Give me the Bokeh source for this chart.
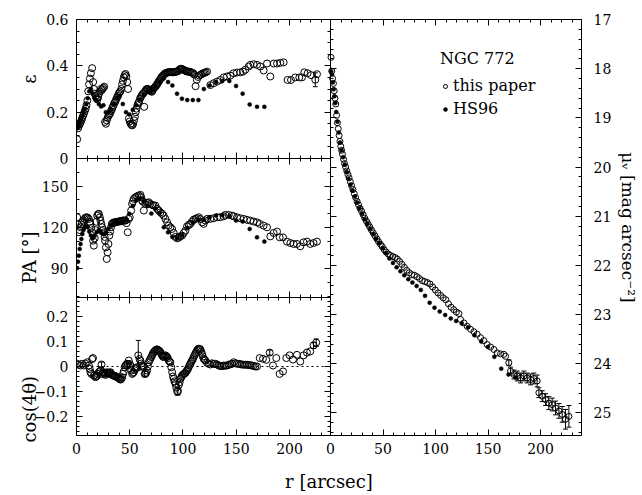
import math
from bokeh.plotting import figure
from bokeh.models import (Range1d, LinearAxis, SingleIntervalTicker, FixedTicker,
                          CustomJSTickFormatter, BasicTickFormatter, ColumnDataSource,
                          Whisker, Legend, LegendItem, Title)
from bokeh.embed import file_html
from bokeh.resources import INLINE

FONT = "DejaVu Serif"

# ---------------- data: this paper ----------------
eps_r = [0.6, 1.4, 2.2, 3.0, 3.8, 4.6, 5.4, 6.2, 7.0, 7.8,
         8.6, 9.4, 10.2, 11.0, 11.8, 12.6, 13.5, 14.7, 15.6, 16.4,
         17.2, 18.0, 18.8, 19.6, 20.4, 21.2, 22.0, 22.8, 23.6, 24.4,
         25.2, 26.0, 26.8, 27.6, 28.4, 29.2, 30.0, 30.8, 31.6, 32.4,
         33.2, 34.0, 34.8, 35.6, 36.4, 37.2, 38.0, 38.8, 39.6, 40.4,
         41.2, 42.0, 42.8, 43.6, 44.4, 45.2, 46.0, 46.8, 47.6, 48.4,
         49.2, 50.0, 50.8, 51.6, 52.4, 53.2, 54.0, 54.8, 55.6, 56.4,
         57.2, 58.0, 58.8, 59.6, 60.4, 61.2, 62.0, 62.8, 63.6, 64.4,
         65.2, 66.0, 66.8, 67.6, 68.4, 69.2, 70.0, 70.8, 71.6, 72.4,
         73.2, 74.0, 74.8, 75.6, 76.4, 77.2, 78.0, 78.8, 79.6, 80.4,
         81.2, 82.0, 82.8, 83.6, 84.6, 85.6, 86.6, 87.6, 88.6, 89.6,
         90.6, 91.6, 92.6, 93.6, 94.6, 95.6, 96.6, 97.6, 98.6, 99.6,
         100.6, 101.6, 102.6, 103.6, 104.6, 105.6, 106.6, 107.6, 108.6, 109.6,
         110.6, 111.8, 113.0, 114.2, 115.4, 116.6, 117.8, 119.0, 120.2, 121.4,
         122.6, 125.7, 128.8, 132.0, 135.0, 138.2, 141.3, 144.4, 147.5, 150.6,
         153.8, 156.3, 158.5, 161.6, 163.2, 166.3, 169.5, 172.6, 175.7, 178.9,
         182.0, 185.2, 188.3, 191.4, 194.5, 198.2, 201.4, 205.4, 209.2, 211.7,
         213.9, 217.0, 220.2, 224.2, 225.8]
eps_v = [0.083, 0.13, 0.14, 0.148, 0.155, 0.165, 0.175, 0.185, 0.195, 0.205,
         0.215, 0.23, 0.25, 0.29, 0.32, 0.345, 0.368, 0.39, 0.33, 0.30,
         0.28, 0.27, 0.26, 0.255, 0.265, 0.28, 0.29, 0.30, 0.295, 0.30,
         0.305, 0.31, 0.158, 0.15, 0.165, 0.175, 0.185, 0.19, 0.195, 0.205,
         0.212, 0.222, 0.23, 0.24, 0.245, 0.255, 0.262, 0.27, 0.28, 0.285,
         0.29, 0.30, 0.32, 0.335, 0.35, 0.36, 0.365, 0.355, 0.33, 0.30,
         0.173, 0.16, 0.15, 0.145, 0.143, 0.15, 0.165, 0.18, 0.20, 0.215,
         0.23, 0.24, 0.245, 0.258, 0.265, 0.272, 0.278, 0.281, 0.223, 0.29,
         0.296, 0.30, 0.30, 0.298, 0.296, 0.294, 0.29, 0.288, 0.295, 0.303,
         0.306, 0.31, 0.314, 0.32, 0.326, 0.332, 0.338, 0.343, 0.35, 0.354,
         0.358, 0.362, 0.365, 0.368, 0.37, 0.372, 0.372, 0.373, 0.373, 0.372,
         0.372, 0.373, 0.374, 0.375, 0.376, 0.378, 0.383, 0.387, 0.387, 0.385,
         0.382, 0.38, 0.378, 0.376, 0.375, 0.375, 0.374, 0.372, 0.37, 0.368,
         0.362, 0.312, 0.34, 0.352, 0.358, 0.362, 0.365, 0.368, 0.37, 0.372,
         0.375, 0.317, 0.325, 0.332, 0.339, 0.35, 0.354, 0.358, 0.368, 0.371,
         0.372, 0.375, 0.383, 0.397, 0.404, 0.407, 0.404, 0.397, 0.38, 0.41,
         0.354, 0.41, 0.41, 0.413, 0.415, 0.339, 0.339, 0.35, 0.35, 0.35,
         0.372, 0.368, 0.36, 0.34, 0.364]
eps_err_r = [224.2]
eps_err_v = [0.34]
eps_err_e = [0.03]

pa_r = [0.6, 1.4, 2.2, 3.0, 3.8, 4.6, 5.3, 6.4, 7.5, 8.5,
        9.4, 10.5, 11.6, 12.4, 13.1, 13.9, 14.7, 15.6, 16.3, 17.1,
        17.8, 18.6, 19.4, 20.2, 21.0, 21.9, 22.5, 23.3, 24.1, 24.9,
        25.6, 26.4, 26.8, 27.6, 28.4, 29.2, 30.0, 30.8, 31.6, 32.4,
        33.2, 34.0, 35.0, 36.0, 37.0, 38.0, 39.0, 40.0, 41.0, 42.0,
        43.0, 44.0, 45.0, 46.0, 47.0, 48.1, 49.0, 50.0, 51.3, 52.2,
        53.0, 53.8, 55.3, 56.9, 58.5, 60.0, 60.7, 61.6, 62.4, 63.2,
        64.7, 66.3, 67.8, 69.4, 71.0, 72.5, 74.1, 75.7, 77.2, 78.8,
        80.4, 81.9, 83.5, 85.1, 86.6, 88.2, 89.8, 91.3, 92.9, 94.5,
        96.0, 97.6, 99.1, 100.7, 102.3, 103.8, 105.4, 106.9, 108.5, 110.0,
        111.7, 113.2, 114.8, 116.3, 117.9, 119.4, 121.0, 122.6, 125.7, 128.8,
        132.0, 135.0, 138.2, 139.8, 142.9, 146.0, 147.6, 150.7, 153.8, 157.0,
        160.1, 163.2, 166.3, 169.5, 172.0, 175.7, 178.9, 182.0, 185.1, 188.3,
        190.8, 193.9, 197.6, 200.8, 203.9, 207.0, 210.1, 213.2, 216.4, 219.5,
        222.6, 225.8]
pa_v = [127.3, 122, 116.4, 118, 120, 122, 123.6, 125, 126.1, 127,
        127.3, 127, 126.1, 124, 122.5, 119.5, 116.4, 110.3, 106.7, 112,
        118, 124, 128.5, 129.5, 129.8, 127.3, 124.9, 122.5, 120, 118,
        116.4, 113, 110.3, 105.4, 97, 101.8, 107.9, 114, 117, 120,
        122.5, 123, 123.6, 123.6, 123.6, 124, 124, 124.4, 124.4, 124.4,
        124.9, 124.9, 125, 124.9, 123, 116.4, 126, 127.3, 132.2, 137,
        139, 140.7, 141.9, 142.6, 143.1, 143.6, 141.9, 139.5, 138.5, 132.2,
        137, 137.8, 138.2, 137, 136.3, 135.8, 135.8, 133.4, 132.2, 130.9,
        129.8, 128.5, 126.1, 123.6, 121.2, 120, 118.8, 115.9, 113, 112,
        112.5, 113.5, 114, 115.9, 117.6, 120.7, 121.7, 122.5, 124.2, 125.6,
        126.1, 126.6, 127.3, 126, 123.6, 122.5, 124.9, 126.1, 126.1, 126.6,
        127.3, 127.3, 128, 129, 129, 128.5, 128, 127.3, 126.6, 126.1,
        125.4, 124.9, 124.2, 123.6, 122.5, 121.2, 120, 113.4, 115.9, 116.9,
        112.7, 112.7, 109.6, 108.6, 107.9, 107.9, 106.2, 109.1, 109.6, 107.9,
        108.6, 109.6]

cos_r = [0.6, 2.2, 3.8, 5.3, 6.9, 8.4, 10.0, 11.6, 12.4, 13.1,
         13.9, 14.7, 15.5, 16.3, 17.1, 17.8, 18.6, 19.4, 20.2, 20.9,
         21.7, 22.5, 23.5, 24.1, 24.9, 25.6, 26.4, 27.2, 28.0, 28.8,
         29.5, 30.3, 31.1, 31.9, 32.7, 33.5, 34.2, 35.0, 35.8, 36.6,
         37.4, 38.2, 39.0, 39.7, 40.5, 41.3, 42.1, 42.9, 43.7, 44.4,
         45.2, 46.0, 46.8, 47.6, 48.4, 49.1, 50.0, 50.7, 51.5, 52.3,
         53.0, 53.8, 54.6, 55.3, 56.1, 56.9, 58.0, 59.2, 60.0, 60.8,
         61.6, 62.4, 63.2, 64.0, 64.7, 65.5, 66.3, 67.0, 67.8, 68.6,
         69.4, 70.2, 71.0, 71.7, 72.5, 73.3, 74.1, 74.9, 75.7, 76.4,
         77.2, 78.0, 78.8, 79.6, 80.4, 81.1, 81.9, 82.7, 83.5, 84.3,
         85.1, 85.8, 86.6, 87.4, 88.2, 89.0, 89.8, 90.6, 91.3, 92.1,
         92.9, 93.7, 94.5, 95.3, 96.0, 96.8, 97.6, 98.4, 99.1, 99.9,
         100.7, 101.5, 102.3, 103.0, 103.8, 104.6, 105.4, 106.1, 106.9, 107.7,
         108.5, 109.3, 110.0, 110.8, 111.6, 112.4, 113.2, 114.0, 114.7, 115.5,
         116.3, 117.1, 117.9, 118.7, 119.4, 120.2, 121.0, 122.6, 124.1, 125.7,
         127.3, 128.8, 130.4, 132.0, 133.5, 135.1, 136.7, 138.2, 139.8, 141.3,
         142.9, 144.5, 146.0, 147.6, 149.2, 150.7, 152.3, 153.9, 155.4, 157.0,
         158.5, 160.1, 161.6, 163.2, 164.8, 166.3, 167.9, 169.5, 172.0, 175.1,
         178.2, 181.4, 184.5, 187.6, 190.7, 193.9, 197.0, 200.1, 203.3, 207.0,
         210.1, 213.2, 216.4, 219.5, 222.6, 225.1]
cos_v = [0.011, 0.007, 0.004, 0.011, 0.004, 0.011, 0.017, 0.004, -0.01, -0.023,
         -0.03, 0.03, 0.034, -0.037, -0.035, -0.043, -0.04, -0.037, -0.03, -0.023,
         -0.02, -0.016, 0.008, -0.03, -0.025, -0.023, -0.03, -0.034, -0.028, -0.023,
         -0.027, -0.03, -0.025, -0.023, -0.03, -0.034, -0.036, -0.037, -0.038, -0.039,
         -0.041, -0.043, -0.045, -0.047, -0.05, -0.053, -0.05, -0.043, -0.03, -0.02,
         -0.003, 0.004, 0.008, 0.011, 0.01, 0.024, 0.01, 0.004, -0.015, -0.03,
         -0.026, -0.023, -0.015, -0.009, -0.005, -0.003, 0.045, 0.03, 0.024, 0.012,
         0.004, 0.0, -0.003, -0.03, -0.03, -0.025, -0.016, 0.0, 0.017, 0.025,
         0.031, 0.038, 0.045, 0.052, 0.058, 0.062, 0.065, 0.068, 0.069, 0.067,
         0.065, 0.062, 0.058, 0.05, 0.045, 0.04, 0.038, 0.042, 0.045, 0.042,
         0.038, 0.033, 0.024, 0.02, 0.017, -0.003, -0.023, -0.04, -0.05, -0.06,
         -0.07, -0.085, -0.1, -0.1, -0.075, -0.064, -0.05, -0.043, -0.037, -0.033,
         -0.03, -0.028, -0.026, -0.02, -0.016, -0.01, -0.003, 0.005, 0.011, 0.018,
         0.024, 0.03, 0.038, 0.045, 0.052, 0.058, 0.065, 0.07, 0.072, 0.07,
         0.069, 0.06, 0.05, 0.04, 0.031, 0.028, 0.024, 0.015, 0.011, 0.008,
         0.013, 0.01, 0.011, 0.008, 0.004, 0.002, 0.001, 0.004, 0.003, 0.004,
         0.007, 0.009, 0.011, 0.017, 0.013, 0.011, 0.011, 0.009, 0.008, 0.007,
         0.007, 0.007, 0.006, 0.005, 0.004, 0.002, 0.0, 0.0, 0.034, 0.031,
         0.027, 0.056, 0.004, 0.034, -0.03, -0.02, 0.034, 0.045, 0.028, 0.047,
         0.02, 0.045, 0.056, 0.061, 0.085, 0.096]
cos_err_r = [23.5, 58.0, 64.0, 83.5, 94.5, 95.3, 96.0, 181.4, 222.6, 225.1]
cos_err_v = [0.008, 0.045, -0.03, 0.045, -0.1, -0.1, -0.075, 0.056, 0.085, 0.096]
cos_err_e = [0.01, 0.06, 0.01, 0.008, 0.015, 0.015, 0.015, 0.01, 0.012, 0.015]

mu_r = [0.5, 1.2, 2.0, 2.8, 3.5, 4.2, 5.0, 5.8, 6.6, 7.4,
        8.2, 9.0, 9.8, 10.6, 11.4, 12.4, 13.4, 14.4, 15.5, 16.6,
        17.7, 18.9, 20.1, 21.3, 22.6, 23.9, 25.3, 26.7, 28.1, 29.6,
        31.1, 32.6, 34.2, 35.8, 37.4, 39.0, 40.7, 42.4, 44.1, 45.8,
        47.5, 49.3, 51.1, 53.0, 55.0, 57.1, 59.2, 61.4, 63.6, 65.8,
        68.0, 70.3, 72.6, 75.0, 77.4, 79.8, 82.3, 84.8, 87.3, 89.8,
        92.3, 94.8, 97.3, 99.8, 102.3, 104.8, 107.3, 109.8, 112.3, 114.8,
        117.3, 119.8, 122.3, 123.8, 127.0, 130.2, 133.3, 136.5, 139.7, 142.9,
        146.0, 149.2, 152.4, 155.6, 158.7, 161.9, 165.1, 166.7, 169.8, 171.4,
        174.6, 177.8, 181.0, 184.1, 187.3, 190.5, 193.6, 196.8, 198.4, 201.6,
        204.8, 207.9, 211.1, 214.3, 217.5, 220.6, 223.8, 227.0]
mu_v = [17.77, 18.05, 18.2, 18.3, 18.45, 18.6, 18.72, 18.95, 19.1, 19.22,
        19.36, 19.48, 19.58, 19.66, 19.74, 19.84, 19.93, 20.0, 20.08, 20.15,
        20.22, 20.3, 20.38, 20.46, 20.54, 20.62, 20.7, 20.77, 20.84, 20.9,
        20.97, 21.04, 21.1, 21.16, 21.22, 21.28, 21.34, 21.4, 21.46, 21.52,
        21.57, 21.62, 21.68, 21.73, 21.77, 21.8, 21.82, 21.84, 21.87, 21.92,
        21.98, 22.04, 22.1, 22.15, 22.19, 22.2, 22.23, 22.27, 22.31, 22.33,
        22.35, 22.38, 22.44, 22.5, 22.56, 22.61, 22.66, 22.7, 22.78, 22.85,
        22.9, 22.95, 22.98, 23.1, 23.17, 23.24, 23.3, 23.35, 23.4, 23.47,
        23.53, 23.61, 23.66, 23.71, 23.78, 23.8, 23.81, 23.85, 23.98, 24.15,
        24.22, 24.25, 24.29, 24.25, 24.29, 24.32, 24.3, 24.35, 24.59, 24.66,
        24.73, 24.8, 24.83, 24.9, 24.96, 25.03, 25.13, 25.07]
mu_err_r = [169.8, 171.4, 174.6, 177.8, 181.0, 184.1, 187.3, 190.5, 193.6, 196.8,
            198.4, 201.6, 204.8, 207.9, 211.1, 214.3, 217.5, 220.6, 223.8, 227.0]
mu_err_v = [23.98, 24.15, 24.22, 24.25, 24.29, 24.25, 24.29, 24.32, 24.3, 24.35,
            24.59, 24.66, 24.73, 24.8, 24.83, 24.9, 24.96, 25.03, 25.13, 25.07]
mu_err_e = [0.06, 0.08, 0.09, 0.1, 0.1, 0.1, 0.1, 0.11, 0.11, 0.12,
            0.1, 0.11, 0.12, 0.13, 0.13, 0.14, 0.15, 0.16, 0.2, 0.22]

# ---------------- data: HS96 ----------------
hs_r = [0.6, 1.4, 2.2, 3.0, 3.8, 4.6, 5.5, 6.6, 7.8, 9.1,
        10.5, 12.0, 13.6, 15.3, 17.1, 19.0, 21.0, 23.1, 25.3, 27.6,
        30.0, 32.5, 35.1, 37.8, 40.6, 43.5, 46.5, 49.6, 52.8, 56.1,
        59.5, 63.0, 66.6, 70.3, 74.1, 78.0, 82.0, 86.0, 90.0, 94.4,
        99.0, 104.0, 109.2, 114.5, 119.6, 125.0, 131.0, 137.0, 143.5, 149.8,
        156.0, 162.6, 169.5, 176.4]
hs_eps = [0.13, 0.135, 0.145, 0.155, 0.165, 0.175, 0.185, 0.20, 0.215, 0.235,
          0.26, 0.29, 0.30, 0.28, 0.26, 0.25, 0.235, 0.225, 0.23, 0.20,
          0.20, 0.21, 0.235, 0.26, 0.27, 0.235, 0.20, 0.19, 0.21, 0.23,
          0.255, 0.275, 0.29, 0.295, 0.31, 0.33, 0.345, 0.33, 0.315, 0.28,
          0.258, 0.252, 0.252, 0.252, 0.30, 0.315, 0.33, 0.335, 0.335, 0.313,
          0.28, 0.233, 0.223, 0.223]
hs_pa = [90.4, 95, 99.4, 104.3, 107.9, 111.5, 115.2, 118, 120, 121,
         120, 117, 114, 112, 114, 116.5, 118, 116, 115, 116.5,
         119, 121.5, 123, 123.6, 123.6, 124, 125.5, 129.8, 135.5, 139.5,
         141, 139, 135.5, 130, 133.5, 130.5, 120, 116.4, 113, 112,
         114, 119.5, 123.5, 125.5, 125.5, 127.3, 128.5, 129, 128, 124.9,
         124.2, 118.8, 112.7, 109.6]
hs_mu = [18.05, 18.12, 18.28, 18.42, 18.56, 18.7, 18.88, 19.08, 19.3, 19.5,
         19.66, 19.8, 19.95, 20.1, 20.24, 20.36, 20.48, 20.6, 20.72, 20.84,
         20.95, 21.06, 21.16, 21.26, 21.36, 21.46, 21.55, 21.65, 21.75, 21.86,
         21.95, 22.04, 22.12, 22.2, 22.28, 22.35, 22.42, 22.5, 22.62, 22.76,
         22.86, 22.94, 23.01, 23.08, 23.13, 23.18, 23.26, 23.42, 23.55, 23.66,
         23.86, 24.1, 24.22, 24.28]

# ---------------- layout ----------------
FRAME_W, FRAME_H = 505, 416
LEFT_W = 254
RIGHT_W = FRAME_W - LEFT_W
TOP_H, MID_H, BOT_H = 139, 139, 138

X_MAX_L = 238.5
X_MAX_R = 239.0
EPS_LO, EPS_HI = 0.0, 0.6
PA_LO, PA_HI = 69.0, 170.0
C_LO, C_HI = -0.278, 0.278
MU_TOP, MU_BOT = 17.0, 25.46

xl = Range1d(0, X_MAX_L * FRAME_W / LEFT_W)
xr = Range1d(-X_MAX_R * LEFT_W / RIGHT_W, X_MAX_R)
sp = EPS_HI - EPS_LO
ye = Range1d(EPS_HI - sp * FRAME_H / TOP_H, EPS_HI)
sp = PA_HI - PA_LO
ypa = Range1d(PA_LO - sp * BOT_H / MID_H, PA_LO + sp * (FRAME_H - BOT_H) / MID_H)
sp = C_HI - C_LO
yc = Range1d(C_LO, C_LO + sp * FRAME_H / BOT_H)
ymu = Range1d(MU_BOT, MU_TOP)

# pixel-unit default ranges used by the outer (shared) axes
p = figure(frame_width=FRAME_W, frame_height=FRAME_H,
           x_range=Range1d(0, FRAME_W), y_range=Range1d(0, FRAME_H),
           output_backend="svg", toolbar_location=None, tools="",
           x_axis_location=None, y_axis_location=None,
           min_border_left=76, min_border_right=61, min_border_top=19, min_border_bottom=60)
p.extra_x_ranges = {"xl": xl, "xr": xr}
p.extra_y_ranges = {"ye": ye, "ypa": ypa, "yc": yc, "ymu": ymu}
for g in p.grid:
    g.visible = False
p.outline_line_color = "black"
p.outline_line_width = 1
p.background_fill_color = "white"
p.border_fill_color = "white"


def multiples(lo, hi, step):
    k0 = math.ceil(lo / step - 1e-9)
    k1 = math.floor(hi / step + 1e-9)
    return [round(k * step, 10) for k in range(k0, k1 + 1)]


def ypix_eps(v):
    return BOT_H + MID_H + (v - EPS_LO) / (EPS_HI - EPS_LO) * TOP_H


def ypix_pa(v):
    return BOT_H + (v - PA_LO) / (PA_HI - PA_LO) * MID_H


def ypix_cos(v):
    return (v - C_LO) / (C_HI - C_LO) * BOT_H


def xpix_l(r):
    return r / X_MAX_L * LEFT_W


def xpix_r(r):
    return LEFT_W + r / X_MAX_R * RIGHT_W


def num_label(v):
    if abs(v) < 1e-9:
        return "0"
    s = f"{abs(v):g}"
    return ("\u2212" if v < 0 else "") + s


def dec_label(v):
    if abs(v) < 1e-9:
        return "0"
    s = f"{abs(v):.1f}"
    return ("\u2212" if v < 0 else "") + s


def lookup_fmt(pos, labs):
    return CustomJSTickFormatter(args=dict(pos=pos, lab=labs), code=(
        "for (let i = 0; i < pos.length; i++) {"
        "  if (Math.abs(pos[i] - tick) < 1e-6) return lab[i];"
        "}"
        "return '';"))


blank = CustomJSTickFormatter(code="return '';")


def style_axis(ax, labels=True, standoff=8, size="14px", tick_in=6, minor_in=3, line=False):
    ax.axis_line_color = "black" if line else None
    ax.axis_line_width = 1
    ax.major_tick_in = tick_in
    ax.major_tick_out = 0
    ax.minor_tick_in = minor_in
    ax.minor_tick_out = 0
    ax.major_tick_line_color = "black"
    ax.minor_tick_line_color = "black"
    ax.major_label_text_font = FONT
    ax.major_label_text_font_size = size
    ax.major_label_text_color = "black"
    ax.major_label_standoff = standoff if labels else 0
    if not labels:
        ax.formatter = blank


# ---- outer left axis: tick marks + numbers for the three left panels
left_major, left_minor, left_lab = [], [], []
for vals_step, minor_step, lo, hi, fn, lf in [
        (0.2, 0.05, EPS_LO, EPS_HI, ypix_eps, dec_label),
        (30, 10, PA_LO, PA_HI, ypix_pa, num_label),
        (0.1, 0.02, C_LO, C_HI, ypix_cos, dec_label)]:
    majors = multiples(lo, hi, vals_step)
    for v in majors:
        left_major.append(fn(v))
        left_lab.append(lf(v))
    for v in multiples(lo, hi, minor_step):
        if all(abs(v - m) > 1e-9 for m in majors):
            left_minor.append(fn(v))

axL = LinearAxis(ticker=FixedTicker(ticks=left_major, minor_ticks=left_minor),
                 formatter=lookup_fmt(left_major, left_lab))
style_axis(axL, labels=True, standoff=8)
p.add_layout(axL, "left")

# ---- second left axis carrying the three panel titles
title_pos = [FRAME_H - 55, FRAME_H - 212, FRAME_H - 356.5]
title_txt = ["ε", "PA [°]", "cos(4θ)"]
axT = LinearAxis(ticker=FixedTicker(ticks=title_pos, minor_ticks=[]),
                 formatter=lookup_fmt(title_pos, title_txt))
style_axis(axT, labels=True, standoff=2, size="18px", tick_in=0, minor_in=0)
axT.major_label_orientation = math.pi / 2
p.add_layout(axT, "left")

# ---- outer bottom / top axes: r ticks for both columns
x_major, x_minor, x_lab = [], [], []
for xmax, fn in [(X_MAX_L, xpix_l), (X_MAX_R, xpix_r)]:
    majors = multiples(0, xmax, 50)
    for r in majors:
        x_major.append(fn(r))
        x_lab.append(num_label(r))
    for r in multiples(0, xmax, 10):
        if all(abs(r - m) > 1e-9 for m in majors):
            x_minor.append(fn(r))

axB = LinearAxis(ticker=FixedTicker(ticks=x_major, minor_ticks=x_minor),
                 formatter=lookup_fmt(x_major, x_lab))
style_axis(axB, labels=True, standoff=7)
axB.axis_label = "r [arcsec]"
axB.axis_label_text_font = FONT
axB.axis_label_text_font_size = "18px"
axB.axis_label_text_font_style = "normal"
axB.axis_label_text_color = "black"
axB.axis_label_standoff = 14
p.add_layout(axB, "below")

axA = LinearAxis(ticker=FixedTicker(ticks=x_major, minor_ticks=x_minor))
style_axis(axA, labels=False)
p.add_layout(axA, "above")

# ---- right axis: surface brightness numbers
axR = LinearAxis(y_range_name="ymu", ticker=SingleIntervalTicker(interval=1, num_minor_ticks=5),
                 formatter=BasicTickFormatter())
style_axis(axR, labels=True, standoff=12)
p.add_layout(axR, "right")

# ---- surface-brightness title on the right, nudged above centre
mu_title = Title(text="μᵥ [mag arcsec⁻²]", align="center", offset=-32, standoff=6,
                 text_font=FONT, text_font_size="17px", text_font_style="normal",
                 text_color="black")
p.add_layout(mu_title, "right")


# ---- internal boundary axes (inside the frame, ticks only)
def inner_axis(side, xname, yname, loc, bounds, ticker):
    ax = LinearAxis(x_range_name=xname, y_range_name=yname, fixed_location=loc,
                    bounds=bounds, ticker=ticker)
    style_axis(ax, labels=False, line=True)
    p.add_layout(ax, side)


def xt():
    return SingleIntervalTicker(interval=50, num_minor_ticks=5)


inner_axis("below", "xl", "ye", EPS_LO, (0, X_MAX_L), xt())
inner_axis("above", "xl", "ypa", PA_HI, (0, X_MAX_L), xt())
inner_axis("below", "xl", "ypa", PA_LO, (0, X_MAX_L), xt())
inner_axis("above", "xl", "yc", C_HI, (0, X_MAX_L), xt())
inner_axis("right", "xl", "ye", X_MAX_L, (EPS_LO, EPS_HI + 1e-6),
           SingleIntervalTicker(interval=0.2, num_minor_ticks=4))
inner_axis("right", "xl", "ypa", X_MAX_L, (PA_LO, PA_HI),
           SingleIntervalTicker(interval=30, num_minor_ticks=3))
inner_axis("right", "xl", "yc", X_MAX_L, (C_LO, C_HI),
           SingleIntervalTicker(interval=0.1, num_minor_ticks=5))
inner_axis("left", "xr", "ymu", 0, (MU_TOP, MU_BOT),
           SingleIntervalTicker(interval=1, num_minor_ticks=5))

# zero line in the cos panel
ZERO = 0.0
p.segment(x0=0, x1=X_MAX_L, y0=ZERO, y1=ZERO, x_range_name="xl", y_range_name="yc",
          line_color="black", line_width=1, line_dash="2 3")


def add_err(r, v, e, xname, yname):
    src = ColumnDataSource(dict(base=r, lower=[a - b for a, b in zip(v, e)],
                                upper=[a + b for a, b in zip(v, e)]))
    w = Whisker(source=src, base="base", lower="lower", upper="upper", dimension="height",
                x_range_name=xname, y_range_name=yname, line_color="black", line_width=1)
    w.upper_head.size = 5
    w.lower_head.size = 5
    w.upper_head.line_color = "black"
    w.lower_head.line_color = "black"
    p.add_layout(w)


OPEN = dict(marker="circle", fill_color=None, line_color="black", line_width=1)
FILL = dict(marker="circle", fill_color="black", line_color="black", line_width=0.5)

add_err(eps_err_r, eps_err_v, eps_err_e, "xl", "ye")
add_err(cos_err_r, cos_err_v, cos_err_e, "xl", "yc")
add_err(mu_err_r, mu_err_v, mu_err_e, "xr", "ymu")

p.scatter(eps_r, eps_v, size=7, x_range_name="xl", y_range_name="ye", **OPEN)
p.scatter(hs_r, hs_eps, size=4, x_range_name="xl", y_range_name="ye", **FILL)
p.scatter(pa_r, pa_v, size=7, x_range_name="xl", y_range_name="ypa", **OPEN)
p.scatter(hs_r, hs_pa, size=4, x_range_name="xl", y_range_name="ypa", **FILL)
p.scatter(cos_r, cos_v, size=7, x_range_name="xl", y_range_name="yc", **OPEN)
r_open = p.scatter(mu_r, mu_v, size=6, x_range_name="xr", y_range_name="ymu", **OPEN)
r_fill = p.scatter(hs_r, hs_mu, size=4, x_range_name="xr", y_range_name="ymu", **FILL)

legend = Legend(items=[LegendItem(label="this paper", renderers=[r_open]),
                       LegendItem(label="HS96", renderers=[r_fill])],
                title="NGC 772", location=(364, 317), orientation="vertical",
                label_text_font=FONT, label_text_font_size="16px", label_text_color="black",
                title_text_font=FONT, title_text_font_size="16px", title_text_font_style="normal",
                title_text_color="black", title_standoff=8,
                glyph_width=10, glyph_height=18, label_height=18, label_standoff=3,
                spacing=4, padding=0, margin=0,
                border_line_color=None, background_fill_alpha=0)
p.add_layout(legend)

open("out.html", "w").write(file_html(p, INLINE))
